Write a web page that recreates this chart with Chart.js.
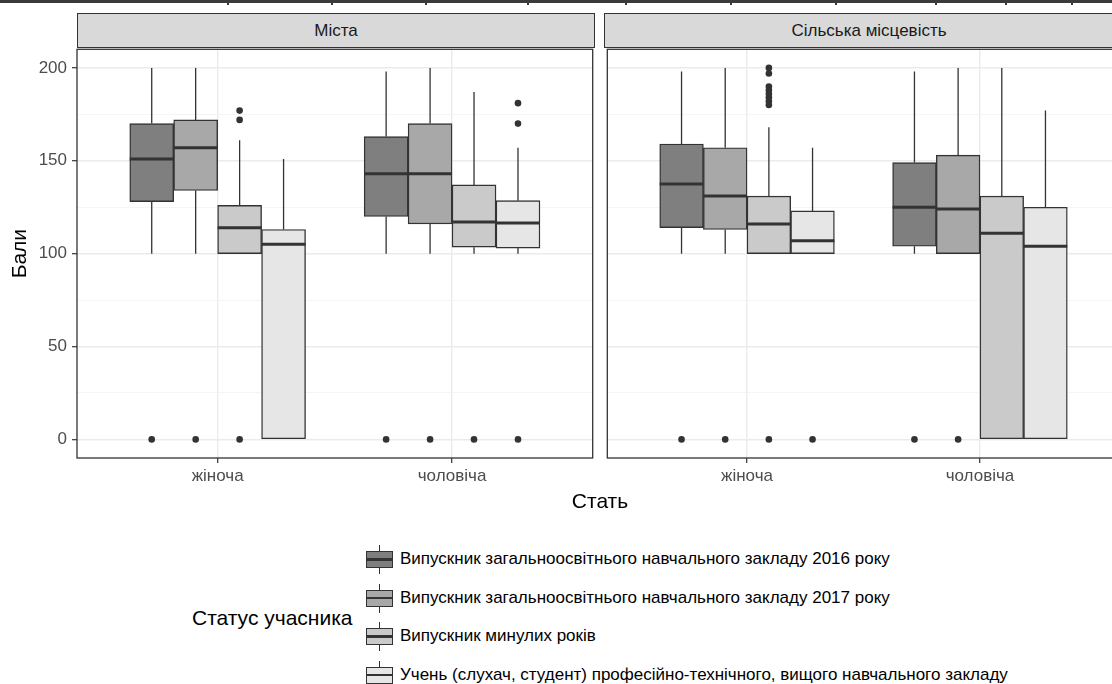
<!DOCTYPE html>
<html><head><meta charset="utf-8">
<script src="https://cdn.jsdelivr.net/npm/chart.js@4.4.1/dist/chart.umd.min.js"></script>
<style>
html,body{margin:0;padding:0;background:#fff;}
body{width:1112px;height:684px;overflow:hidden;position:relative;font-family:"Liberation Sans",Arial,sans-serif;}
#topline{position:absolute;left:0;top:0;width:1112px;height:3px;background:#3a3a3a;}
.tk{position:absolute;top:0;width:2px;height:5px;background:#3a3a3a;}
.strip{position:absolute;top:13px;height:35px;box-sizing:border-box;background:#D9D9D9;border:1px solid #333;color:#1A1A1A;font-size:17px;display:flex;align-items:center;justify-content:center;}
canvas{position:absolute;}
#xtitle{position:absolute;left:77px;width:1046px;top:488px;text-align:center;font-size:21px;color:#000;line-height:25px;}
#legtitle{position:absolute;left:192px;top:605px;font-size:21px;color:#000;line-height:25px;}
#legend{position:absolute;left:366px;top:540px;}
.row{position:relative;height:38.67px;}
.key{position:absolute;left:0;top:0;width:27px;height:38px;}
.key .wh{position:absolute;left:13px;width:1.2px;top:5px;bottom:4px;background:#333;}
.key .bx{position:absolute;left:0;right:0;top:11px;height:17px;box-sizing:border-box;border:1.2px solid #333;}
.key .md{position:absolute;left:0;right:0;top:18px;height:2.5px;background:#333;}
.lt{position:absolute;left:34px;top:0;line-height:38px;font-size:17px;color:#000;white-space:nowrap;}
</style></head><body>
<div id="topline"></div>
<div class="strip" id="strip0" style="left:77px;width:518px;"></div>
<div class="strip" id="strip1" style="left:604px;width:530px;"></div>
<canvas id="c0" width="596" height="456" style="left:0;top:46px;"></canvas>
<canvas id="c1" width="519" height="456" style="left:604px;top:46px;"></canvas>
<div id="xtitle">Стать</div>
<div id="legtitle">Статус учасника</div>
<div id="legend"></div>
<script>
// ---- data ----
const categories = ['жіноча', 'чоловіча'];
const panelNames = ['Міста', 'Сільська місцевість'];
const seriesNames = [
  'Випускник загальноосвітнього навчального закладу 2016 року',
  'Випускник загальноосвітнього навчального закладу 2017 року',
  'Випускник минулих років',
  'Учень (слухач, студент) професійно-технічного, вищого навчального закладу'
];
const seriesFill = ['#7F7F7F', '#A8A8A8', '#CACACA', '#E6E6E6'];
const yTickValues = [0, 50, 100, 150, 200];
const yMinorValues = [25, 75, 125, 175];
const topTicks = [227, 331, 425, 527, 625, 730, 835, 935, 1005, 1071];

// [min, q1, median, q3, max] per category (жіноча, чоловіча)
const cityGrad2016 = [[100, 128, 151, 170, 200], [100, 120, 143, 163, 198]];
const cityGrad2017 = [[100, 134, 157, 172, 200], [100, 116, 143, 170, 200]];
const cityPast     = [[100, 100, 114, 126, 161], [100, 103.5, 117, 137, 187]];
const cityStudent  = [[0, 0, 105, 113, 151], [100, 103, 116.5, 128.5, 157]];
const ruralGrad2016 = [[100, 114, 137.5, 159, 198], [100, 104, 125, 149, 198]];
const ruralGrad2017 = [[100, 113, 131, 157, 200], [100, 100, 124, 153, 200]];
const ruralPast     = [[100, 100, 116, 131, 168], [0, 0, 111, 131, 200]];
const ruralStudent  = [[100, 100, 107, 123, 157], [0, 0, 104, 125, 177]];

// outliers per category
const cityOutGrad2016 = [[0], [0]];
const cityOutGrad2017 = [[0], [0]];
const cityOutPast     = [[177, 172, 0], [0]];
const cityOutStudent  = [[], [181, 170, 0]];
const ruralOutGrad2016 = [[0], [0]];
const ruralOutGrad2017 = [[0], [0]];
const ruralOutPast     = [[200, 197, 190, 188, 186, 184, 182, 180, 0], []];
const ruralOutStudent  = [[0], []];

// ---- page text ----
document.getElementById('strip0').textContent = panelNames[0];
document.getElementById('strip1').textContent = panelNames[1];
topTicks.forEach(x => { const d = document.createElement('div'); d.className = 'tk'; d.style.left = x + 'px'; document.body.appendChild(d); });
const leg = document.getElementById('legend');
seriesNames.forEach((n, i) => {
  const r = document.createElement('div'); r.className = 'row';
  r.innerHTML = '<div class="key"><div class="wh"></div><div class="bx" style="background:' + seriesFill[i] + '"></div><div class="md"></div></div><div class="lt"></div>';
  r.querySelector('.lt').textContent = n;
  leg.appendChild(r);
});

// ---- charts ----
Chart.defaults.font.family = '"Liberation Sans", Arial, sans-serif';
const groupWidth = 0.75;
const boxW = groupWidth / 4;

const panelBorder = {
  id: 'panelBorder',
  afterDatasetsDraw(chart) {
    const { ctx, chartArea: a } = chart;
    ctx.save();
    ctx.strokeStyle = '#333';
    ctx.lineWidth = 1.3;
    ctx.strokeRect(a.left, a.top, a.right - a.left, a.bottom - a.top);
    ctx.restore();
  }
};

function buildPanel(id, stats, outs, showY, pad) {
  const datasets = [];
  stats.forEach((st, s) => {
    const off = (s - 1.5) * boxW;
    datasets.push({
      type: 'bar', order: 2,
      data: categories.map((c, i) => ({ x: i + 1 + off, y: [st[i][1], st[i][3]] })),
      backgroundColor: seriesFill[s], borderColor: '#333', borderWidth: 1.4, borderSkipped: false,
      grouped: false, categoryPercentage: 1, barPercentage: 1
    });
    const wh = [];
    categories.forEach((c, i) => {
      const x = i + 1 + off;
      wh.push({ x, y: st[i][3] }, { x, y: st[i][4] }, { x, y: null }, { x, y: st[i][1] }, { x, y: st[i][0] }, { x, y: null });
    });
    datasets.push({ type: 'line', order: 3, data: wh, borderColor: '#333', borderWidth: 1.3, pointRadius: 0, pointHoverRadius: 0, tension: 0, fill: false, spanGaps: false });
    const md = [];
    categories.forEach((c, i) => {
      const x = i + 1 + off;
      md.push({ x: x - boxW / 2, y: st[i][2] }, { x: x + boxW / 2, y: st[i][2] }, { x, y: null });
    });
    datasets.push({ type: 'line', order: 1, data: md, borderColor: '#333', borderWidth: 3, borderCapStyle: 'butt', pointRadius: 0, pointHoverRadius: 0, tension: 0, fill: false, spanGaps: false });
    const op = [];
    categories.forEach((c, i) => { outs[s][i].forEach(v => op.push({ x: i + 1 + off, y: v })); });
    datasets.push({ type: 'scatter', order: 0, data: op, pointRadius: 3.3, pointHoverRadius: 3.3, backgroundColor: '#333', borderWidth: 0, showLine: false });
  });

  return new Chart(document.getElementById(id), {
    type: 'bar',
    data: { datasets },
    plugins: [panelBorder],
    options: {
      responsive: false, animation: false, events: [],
      layout: { padding: pad },
      plugins: { legend: { display: false }, tooltip: { enabled: false } },
      scales: {
        x: {
          type: 'linear', min: 0.4, max: 2.6, offset: false,
          afterBuildTicks: sc => { sc.ticks = categories.map((c, i) => ({ value: i + 1 })); },
          ticks: { color: '#4D4D4D', font: { size: 17 }, padding: 3, autoSkip: false, maxRotation: 0, callback: v => categories[Math.round(v) - 1] },
          grid: { offset: false, color: '#EBEBEB', lineWidth: 1.4, tickLength: 5, tickColor: '#333', tickWidth: 1.2 },
          border: { display: false },
          afterFit: sc => { sc.height = 36; sc.paddingLeft = 0; sc.paddingRight = 0; }
        },
        y: {
          type: 'linear', min: -10, max: 210,
          afterBuildTicks: sc => { sc.ticks = yTickValues.concat(yMinorValues).sort((a, b) => a - b).map(v => ({ value: v })); },
          ticks: { display: showY, color: '#4D4D4D', font: { size: 17 }, padding: 5, autoSkip: false, callback: v => yTickValues.includes(v) ? String(v) : '' },
          grid: {
            color: ctx => yTickValues.includes(ctx.tick && ctx.tick.value) ? '#EBEBEB' : '#F2F2F2',
            lineWidth: ctx => yTickValues.includes(ctx.tick && ctx.tick.value) ? 1.4 : 0.8,
            drawTicks: showY, tickLength: 5, tickWidth: 1.2,
            tickColor: ctx => yTickValues.includes(ctx.tick && ctx.tick.value) ? '#333' : 'rgba(0,0,0,0)'
          },
          border: { display: false },
          title: { display: showY, text: 'Бали', color: '#000', font: { size: 21 }, padding: { top: 8, bottom: 0 } },
          afterFit: sc => { sc.width = showY ? 77 : 0; sc.paddingTop = 0; sc.paddingBottom = 0; }
        }
      }
    }
  });
}

buildPanel('c0', [cityGrad2016, cityGrad2017, cityPast, cityStudent],
  [cityOutGrad2016, cityOutGrad2017, cityOutPast, cityOutStudent], true,
  { left: 0, right: 2, top: 1, bottom: 8 });
buildPanel('c1', [ruralGrad2016, ruralGrad2017, ruralPast, ruralStudent],
  [ruralOutGrad2016, ruralOutGrad2017, ruralOutPast, ruralOutStudent], false,
  { left: 1, right: 0, top: 1, bottom: 8 });
</script>
</body></html>
